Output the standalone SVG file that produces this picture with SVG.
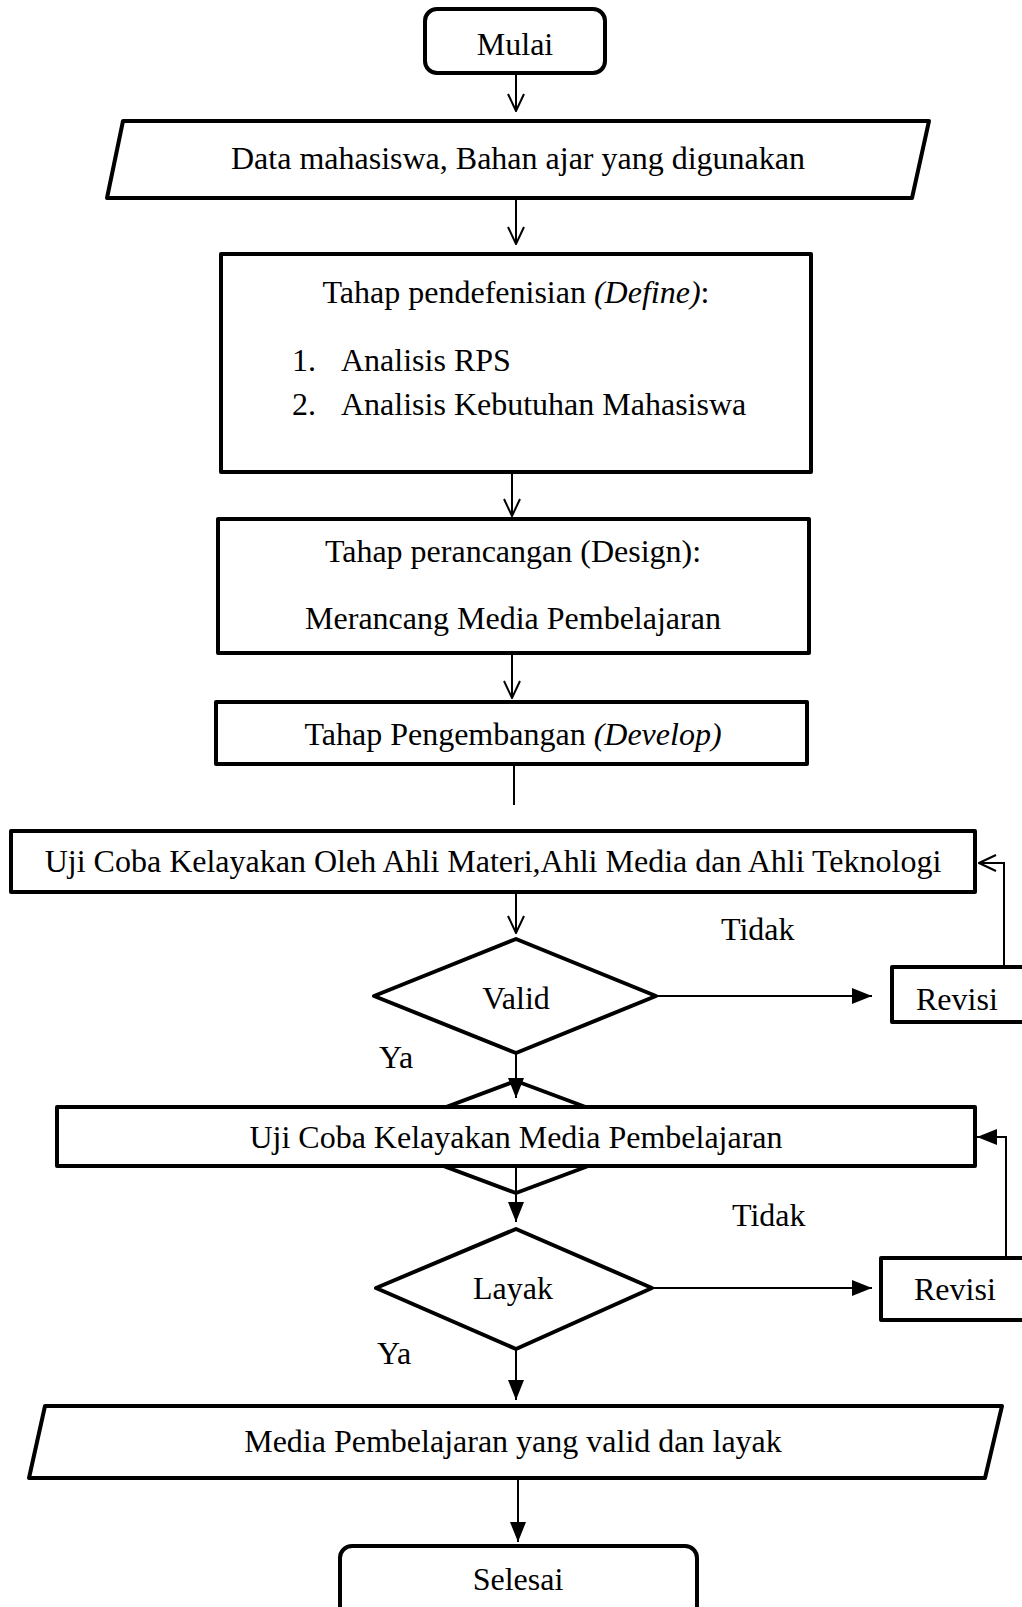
<svg xmlns="http://www.w3.org/2000/svg" width="1022" height="1607" viewBox="0 0 1022 1607">
<defs>
<style>
.box{fill:#fff;stroke:#000;stroke-width:4;stroke-linejoin:round}
.ln{fill:none;stroke:#000;stroke-width:2}
.t{font-family:"Liberation Serif","Times New Roman",serif;font-size:32px;fill:#000}
.c{text-anchor:middle}
.i{font-style:italic}
</style>
<marker id="open" viewBox="0 0 20 20" refX="19" refY="10" markerWidth="20" markerHeight="20" markerUnits="userSpaceOnUse" orient="auto">
<path d="M2,2 L19,10 L2,18" fill="none" stroke="#000" stroke-width="2"/>
</marker>
<marker id="fill" viewBox="0 0 20 16" refX="20" refY="8" markerWidth="20" markerHeight="16" markerUnits="userSpaceOnUse" orient="auto">
<path d="M0,0 L20,8 L0,16 Z" fill="#000"/>
</marker>
</defs>
<rect width="1022" height="1607" fill="#fff"/>

<g id="hidden-diamond">
<polygon class="box" points="516,1081 666,1137 516,1193 366,1137"/>
</g>

<g id="connectors">
<line class="ln" x1="516" y1="73" x2="516" y2="111" marker-end="url(#open)"/>
<line class="ln" x1="516" y1="200" x2="516" y2="244" marker-end="url(#open)"/>
<line class="ln" x1="512" y1="474" x2="512" y2="516" marker-end="url(#open)"/>
<line class="ln" x1="512" y1="655" x2="512" y2="698" marker-end="url(#open)"/>
<line class="ln" x1="514" y1="766" x2="514" y2="805"/>
<line class="ln" x1="516" y1="892" x2="516" y2="933" marker-end="url(#open)"/>
<line class="ln" x1="656" y1="996" x2="872" y2="996" marker-end="url(#fill)"/>
<polyline class="ln" points="1004,967 1004,863 979,863" marker-end="url(#open)"/>
<line class="ln" x1="516" y1="1053" x2="516" y2="1098" marker-end="url(#fill)"/>
<line class="ln" x1="516" y1="1166" x2="516" y2="1222" marker-end="url(#fill)"/>
<line class="ln" x1="652" y1="1288" x2="872" y2="1288" marker-end="url(#fill)"/>
<polyline class="ln" points="1006,1258 1006,1137 977,1137" marker-end="url(#fill)"/>
<line class="ln" x1="516" y1="1349" x2="516" y2="1400" marker-end="url(#fill)"/>
<line class="ln" x1="518" y1="1480" x2="518" y2="1542" marker-end="url(#fill)"/>
</g>

<g id="mulai">
<rect class="box" x="425" y="9" width="180" height="64" rx="12"/>
<text class="t c" x="515" y="55">Mulai</text>
</g>

<g id="data">
<polygon class="box" points="123,121 929,121 912,198 107,198"/>
<text class="t c" x="518" y="169">Data mahasiswa, Bahan ajar yang digunakan</text>
</g>

<g id="define">
<rect class="box" x="221" y="254" width="590" height="218"/>
<text class="t c" x="516" y="303">Tahap pendefenisian <tspan class="i">(Define)</tspan>:</text>
<text class="t" x="292" y="371">1.</text>
<text class="t" x="341" y="371">Analisis RPS</text>
<text class="t" x="292" y="415">2.</text>
<text class="t" x="341" y="415">Analisis Kebutuhan Mahasiswa</text>
</g>

<g id="design">
<rect class="box" x="218" y="519" width="591" height="134"/>
<text class="t c" x="513" y="562">Tahap perancangan (Design):</text>
<text class="t c" x="513" y="629">Merancang Media Pembelajaran</text>
</g>

<g id="develop">
<rect class="box" x="216" y="702" width="591" height="62"/>
<text class="t c" x="513" y="745">Tahap Pengembangan <tspan class="i">(Develop)</tspan></text>
</g>

<g id="uji1">
<rect class="box" x="11" y="831" width="964" height="61"/>
<text class="t c" x="493" y="872">Uji Coba Kelayakan Oleh Ahli Materi,Ahli Media dan Ahli Teknologi</text>
</g>

<g id="valid">
<polygon class="box" points="516,939 656,996 516,1053 374,996"/>
<text class="t c" x="516" y="1009">Valid</text>
</g>

<g id="revisi1">
<rect class="box" x="892" y="967" width="140" height="55"/>
<text class="t" x="916" y="1010">Revisi</text>
</g>

<g id="uji2">
<rect class="box" x="57" y="1107" width="918" height="59"/>
<text class="t c" x="516" y="1148">Uji Coba Kelayakan Media Pembelajaran</text>
</g>

<g id="layak">
<polygon class="box" points="516,1229 652,1288 516,1349 376,1288"/>
<text class="t c" x="513" y="1299">Layak</text>
</g>

<g id="revisi2">
<rect class="box" x="881" y="1258" width="150" height="62"/>
<text class="t" x="914" y="1300">Revisi</text>
</g>

<g id="selesai">
<rect class="box" x="340" y="1546" width="357" height="80" rx="12"/>
<text class="t c" x="518" y="1590">Selesai</text>
</g>

<g id="media-output">
<polygon class="box" points="45,1406 1002,1406 985,1478 29,1478"/>
<text class="t c" x="513" y="1452">Media Pembelajaran yang valid dan layak</text>
</g>

<g id="labels">
<text class="t" x="721" y="940">Tidak</text>
<text class="t" x="379" y="1068">Ya</text>
<text class="t" x="732" y="1226">Tidak</text>
<text class="t" x="377" y="1364">Ya</text>
</g>
</svg>
